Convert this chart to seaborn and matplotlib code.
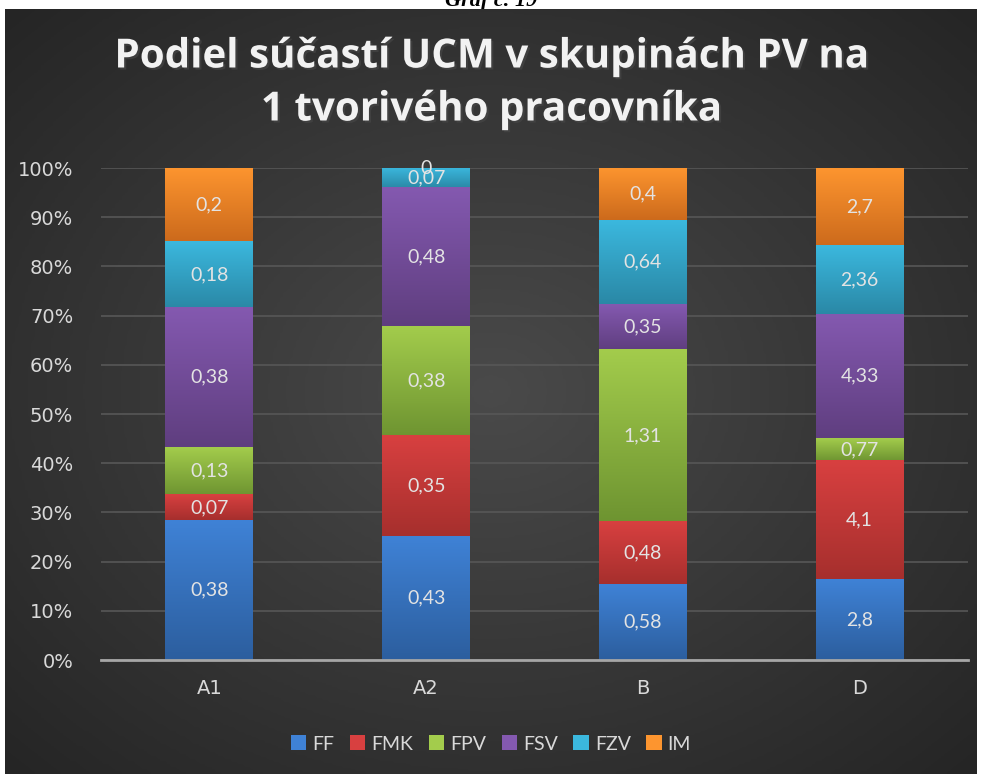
import numpy as np
import pandas as pd
import matplotlib
matplotlib.use("Agg")
import matplotlib.pyplot as plt
import matplotlib.patheffects as pe
from matplotlib.colors import LinearSegmentedColormap
from matplotlib.patches import Patch
import seaborn as sns

groups = ["A1", "A2", "B", "D"]
series = ["FF", "FMK", "FPV", "FSV", "FZV", "IM"]
ff = [0.38, 0.43, 0.58, 2.8]
fmk = [0.07, 0.35, 0.48, 4.1]
fpv = [0.13, 0.38, 1.31, 0.77]
fsv = [0.38, 0.48, 0.35, 4.33]
fzv = [0.18, 0.07, 0.64, 2.36]
im = [0.2, 0, 0.4, 2.7]
yticks = [0, 0.1, 0.2, 0.3, 0.4, 0.5, 0.6, 0.7, 0.8, 0.9, 1.0]

# top / bottom gradient colours per series
top_colors = ["#3f82d6", "#d84040", "#a3cc4c", "#8459b0", "#3bb8de", "#fd952f"]
bot_colors = ["#2c5e9e", "#a62f2d", "#6e9431", "#5f3e7f", "#2a88a6", "#cc6a1c"]

df = pd.DataFrame({"FF": ff, "FMK": fmk, "FPV": fpv, "FSV": fsv, "FZV": fzv, "IM": im},
                  index=groups)
share = df.div(df.sum(axis=1), axis=0)
cum = share.cumsum(axis=1)

W, H = 982, 774
fig = plt.figure(figsize=(W / 100, H / 100), dpi=100)
fig.patch.set_facecolor("white")

# caption above chart, mostly hidden behind the chart area
fig.text(0.5, 1 - 6 / H, "Graf č. 19", ha="center", va="baseline", fontsize=16,
         family="Liberation Serif", style="italic", weight="bold", color="black", zorder=-3)

# dark radial background
bg = fig.add_axes([5 / W, 0, 972 / W, 1 - 9 / H], zorder=-1)
yy, xx = np.mgrid[-1:1:300j, -1:1:300j]
rr = np.sqrt(xx ** 2 + yy ** 2) / np.sqrt(2)
bg_cmap = LinearSegmentedColormap.from_list("bg", ["#4a4a4a", "#252525"])
bg.imshow(rr, cmap=bg_cmap, aspect="auto", extent=[0, 1, 0, 1], vmin=0, vmax=1)
bg.set_axis_off()

ax = fig.add_axes([101 / W, 1 - 660 / H, 867 / W, 492 / H])
ax.set_facecolor("none")

sns.set_style("dark")
plt.rcParams["font.family"] = ["Lato", "DejaVu Sans"]

layers = []
for i in range(len(series) - 1, -1, -1):
    n0 = len(ax.patches)
    sns.barplot(x=groups, y=cum[series[i]].values, color=top_colors[i], width=0.405,
                saturation=1, ax=ax, zorder=2, edgecolor="none", linewidth=0)
    layers.append((i, ax.patches[n0:]))

for i, patches in layers:
    cmap = LinearSegmentedColormap.from_list("s%d" % i, [bot_colors[i], top_colors[i]])
    grad = np.linspace(0, 1, 256).reshape(-1, 1)
    for j, p in enumerate(patches):
        bottom = cum[series[i - 1]].iloc[j] if i > 0 else 0
        top = p.get_height()
        if top - bottom <= 0:
            continue
        ax.imshow(grad, cmap=cmap, aspect="auto", origin="lower", zorder=3,
                  extent=[p.get_x(), p.get_x() + p.get_width(), bottom, top])

# data labels
for i, s in enumerate(series):
    for j, g in enumerate(groups):
        y = cum[s].iloc[j] - share[s].iloc[j] / 2
        txt = ("%g" % df[s].iloc[j]).replace(".", ",")
        ax.text(j, y, txt, ha="center", va="center", fontsize=14, color="#e3e3e3",
                zorder=5, clip_on=False)

ax.set_xlim(-0.5, 3.5)
ax.set_ylim(0, 1)
ax.set_yticks(yticks)
ax.set_yticklabels(["%d%%" % round(t * 100) for t in yticks])
ax.grid(axis="y", color="#575757", linewidth=1.2, zorder=0)
ax.grid(axis="x", visible=False)
ax.set_axisbelow(True)
for side in ["left", "right", "top"]:
    ax.spines[side].set_visible(False)
ax.spines["bottom"].set_color("#a6a6a6")
ax.spines["bottom"].set_linewidth(2)
ax.spines["bottom"].set_zorder(4)
ax.tick_params(axis="both", length=0, labelsize=14, labelcolor="#d9d9d9")
ax.tick_params(axis="x", pad=14)
ax.tick_params(axis="y", pad=20)
ax.set_xlabel("")
ax.set_ylabel("")

title_kw = dict(ha="center", va="center", fontsize=29, weight="bold", color="#f2f2f2",
                family=["Open Sans", "DejaVu Sans"],
                path_effects=[pe.SimplePatchShadow(offset=(1.5, -1.5), alpha=0.6), pe.Normal()])
fig.text(0.5, 1 - 57 / H, "Podiel súčastí UCM v skupinách PV na", **title_kw)
fig.text(0.5, 1 - 110 / H, "1 tvorivého pracovníka", **title_kw)

handles = [Patch(facecolor=top_colors[i], edgecolor="none", label=s) for i, s in enumerate(series)]
fig.legend(handles=handles, loc="center", bbox_to_anchor=(0.5, 1 - 744 / H), ncol=6,
           frameon=False, fontsize=14, labelcolor="#d9d9d9", handlelength=0.8,
           handleheight=0.8, handletextpad=0.3, columnspacing=0.8)

fig.savefig("out.png", dpi=100, facecolor=fig.get_facecolor())
